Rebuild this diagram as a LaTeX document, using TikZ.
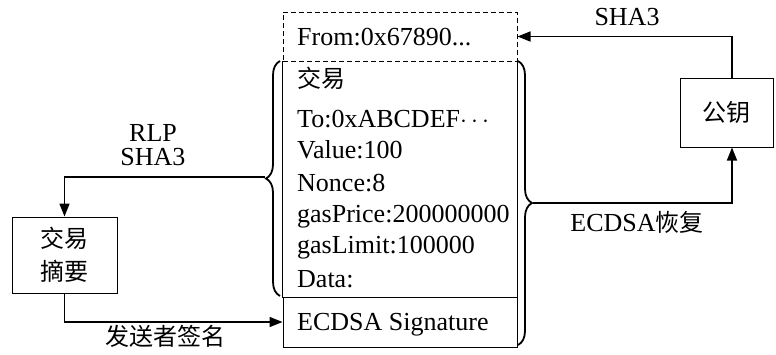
\documentclass[tikz,border=0pt]{standalone}
\usepackage{fontspec}
\setmainfont{Liberation Serif}
\newfontfamily\cjk{Noto Sans CJK SC}
\usetikzlibrary{arrows.meta,decorations.pathreplacing,calc}
\begin{document}
\begin{tikzpicture}[x=1pt,y=-1pt,
  font=\fontsize{26}{30}\selectfont,
  box/.style={draw,line width=1pt,inner sep=0pt},
  conn/.style={line width=1.6pt,-{Triangle[length=13pt,width=10pt]}},
  brc/.style={line width=1.8pt,decorate,decoration={brace,amplitude=14pt}},
  txt/.style={anchor=base west,inner sep=0pt},
  lbl/.style={inner sep=0pt,align=center}]
\useasboundingbox (0,0) rectangle (776,354);
% main boxes
\node[box,dash pattern=on 5pt off 3pt,minimum width=234pt,minimum height=49pt] (from) at (400,36.5) {};
\node[inner sep=0pt,minimum width=234pt,minimum height=236pt] (tx) at (400,179) {};
\draw[line width=1pt] (tx.north west) -- (tx.south west) -- (tx.south east) -- (tx.north east);
\node[box,minimum width=234pt,minimum height=50pt] (sig) at (400,322) {};
% texts
\node[txt] (tfrom) at (297,45) {From:0x67890...};
\node[txt,font=\fontsize{24}{30}\selectfont\cjk] (ttx) at (297,87) {交易};
\node[txt] (tto) at (297,127) {To:0xABCDEF$\cdots$};
\node[txt] (tval) at (297,158) {Value:100};
\node[txt] (tnon) at (297,191) {Nonce:8};
\node[txt] (tgp) at (297,222) {gasPrice:200000000};
\node[txt] (tgl) at (297,253) {gasLimit:100000};
\node[txt] (tdat) at (297,287) {Data:};
\node[txt] (tsig) at (297,330) {ECDSA Signature};
% side boxes
\node[box,minimum width=105pt,minimum height=76pt,align=center,font=\fontsize{24}{33}\selectfont\cjk] (dg) at (64.5,255) {交易\\摘要};
\node[box,minimum width=93pt,minimum height=69pt,font=\fontsize{24}{30}\selectfont\cjk] (pk) at (726.5,112.5) {公钥};
% braces
\draw[brc] (280,296) -- (280,61);
\draw[brc] (518,61) -- (518,345);
\coordinate (lb) at (265,177);
\coordinate (rb) at (533,203);
% connectors
\draw[conn] (lb) -| (dg.north);
\draw[conn] (dg.south) |- (sig.west);
\draw[conn] (rb) -| ([xshift=5.5pt]pk.south);
\draw[conn] ([xshift=5.5pt]pk.north) |- (from.east);
% labels
\node[lbl] (lrlp) at (153,145) {RLP\\[-6pt]SHA3};
\node[lbl] (lsha) at (627,17) {SHA3};
\node[lbl] (lec) at (637,222) {ECDSA{\fontsize{24}{30}\selectfont\cjk 恢复}};
\node[lbl,font=\fontsize{24}{30}\selectfont\cjk] (lsend) at (165,336) {发送者签名};
\end{tikzpicture}
\end{document}
